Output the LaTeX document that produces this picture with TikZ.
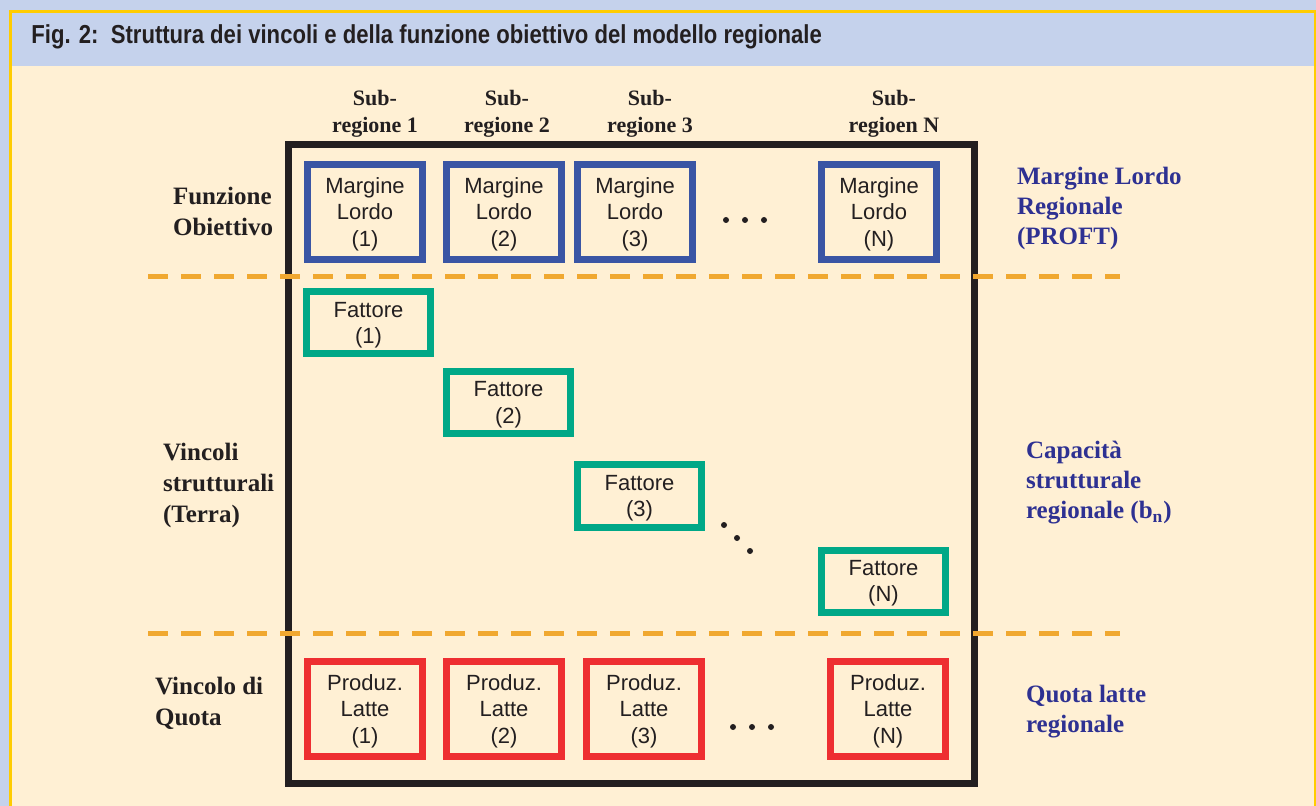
\documentclass[tikz,border=0pt]{standalone}
\usepackage{fontspec}
\setmainfont{Liberation Serif}
\setsansfont{Liberation Sans}
\newfontfamily\titlefont[FakeStretch=0.85]{Liberation Sans}
\usepackage{xcolor}
\usepackage{tikz}
\definecolor{FigTitleBlue}{RGB}{197, 210, 236}
\definecolor{FigCream}{RGB}{255, 240, 212}
\definecolor{FigYellow}{RGB}{255, 204, 0}
\definecolor{FigInk}{RGB}{35, 31, 32}
\definecolor{FigBoxBlue}{RGB}{58, 85, 164}
\definecolor{FigBoxGreen}{RGB}{0, 168, 135}
\definecolor{FigBoxRed}{RGB}{238, 46, 49}
\definecolor{FigOrange}{RGB}{240, 168, 48}
\definecolor{FigLabelBlue}{RGB}{46, 49, 146}

\tikzset{
  cellbox/.style={line width=3.5pt, fill=FigCream, text=FigInk, align=center, inner sep=0pt,
                  font=\sffamily\fontsize{11}{13.3}\selectfont, text depth=0pt},
  marginbox/.style={cellbox, draw=FigBoxBlue, minimum width=57.5pt, minimum height=47.5pt},
  fattorebox/.style={cellbox, draw=FigBoxGreen, minimum width=62pt, minimum height=31pt},
  quotabox/.style={cellbox, draw=FigBoxRed, minimum width=57.5pt, minimum height=47.5pt},
  collabel/.style={align=center, text=FigInk, font=\bfseries\fontsize{11}{13.5}\selectfont},
  rowlabel/.style={align=left, anchor=west, text=FigInk, font=\bfseries\fontsize{12.5}{15.5}\selectfont},
  sumlabel/.style={align=left, anchor=west, text=FigLabelBlue, font=\bfseries\fontsize{12.5}{15}\selectfont},
  sepline/.style={draw=FigOrange, line width=2.75pt, dash pattern=on 10pt off 6.5pt},
  dotmark/.style={fill=FigInk}
}

\begin{document}
\begin{tikzpicture}[x=0.5pt, y=-0.5pt]
  \useasboundingbox (0,0) rectangle (1316,806);
  % background and title bar
  \fill[FigTitleBlue] (0,0) rectangle (1316,806);
  \fill[FigCream] (12,66) rectangle (1316,806);
  \draw[FigYellow, line width=1.5pt] (10.5,806) |- (1315.5,11.5) -- (1315.5,806);
  \node[anchor=west, inner sep=0pt, text=FigInk, font=\titlefont\bfseries\fontsize{13}{15}\selectfont] (title) at (31,37)
    {Fig. 2:\ \ Struttura dei vincoli e della funzione obiettivo del modello regionale};

  % matrix frame
  \draw[FigInk, line width=3.5pt] (288.5,145) rectangle (974,783.5);

  % column headers
  \node[collabel] (col1) at (375,114) {Sub-\\regione 1};
  \node[collabel] (col2) at (507,114) {Sub-\\regione 2};
  \node[collabel] (col3) at (650,114) {Sub-\\regione 3};
  \node[collabel] (colN) at (894,114) {Sub-\\regioen N};

  % objective row
  \node[marginbox] (ml1) at (365,212) {Margine\\Lordo\\(1)};
  \node[marginbox] (ml2) at (504,212) {Margine\\Lordo\\(2)};
  \node[marginbox] (ml3) at (635,212) {Margine\\Lordo\\(3)};
  \node[marginbox] (mlN) at (879,212) {Margine\\Lordo\\(N)};
  \foreach \dx in {726,745,764} \fill[dotmark] (\dx,220) circle (1.5pt);

  % structural constraints
  \node[fattorebox] (fa1) at (368.5,323) {Fattore\\(1)};
  \node[fattorebox] (fa2) at (508.5,402.5) {Fattore\\(2)};
  \node[fattorebox] (fa3) at (639.5,496) {Fattore\\(3)};
  \node[fattorebox] (faN) at (883.5,581) {Fattore\\(N)};
  \foreach \dx/\dy in {724/525,737/538,750/551} \fill[dotmark] (\dx,\dy) circle (1.5pt);

  % quota row
  \node[quotabox] (pl1) at (365,709) {Produz.\\Latte\\(1)};
  \node[quotabox] (pl2) at (504,709) {Produz.\\Latte\\(2)};
  \node[quotabox] (pl3) at (644,709) {Produz.\\Latte\\(3)};
  \node[quotabox] (plN) at (888,709) {Produz.\\Latte\\(N)};
  \foreach \dx in {733,752,771} \fill[dotmark] (\dx,727) circle (1.5pt);

  % separators
  \draw[sepline] (148,276.5) -- (1120,276.5);
  \draw[sepline] (148,633.5) -- (1120,633.5);

  % row labels
  \node[rowlabel] (rowobj) at (166,211) {Funzione\\Obiettivo};
  \node[rowlabel] (rowvin) at (156,485) {Vincoli\\strutturali\\(Terra)};
  \node[rowlabel] (rowquo) at (148,703) {Vincolo di\\Quota};

  % totals on the right
  \node[sumlabel] (summl) at (1010,208) {Margine Lordo\\Regionale\\(PROFT)};
  \node[sumlabel] (sumcap) at (1019,483) {Capacità\\strutturale\\regionale (b\textsubscript{n})};
  \node[sumlabel] (sumquo) at (1019,712) {Quota latte\\regionale};
\end{tikzpicture}
\end{document}
